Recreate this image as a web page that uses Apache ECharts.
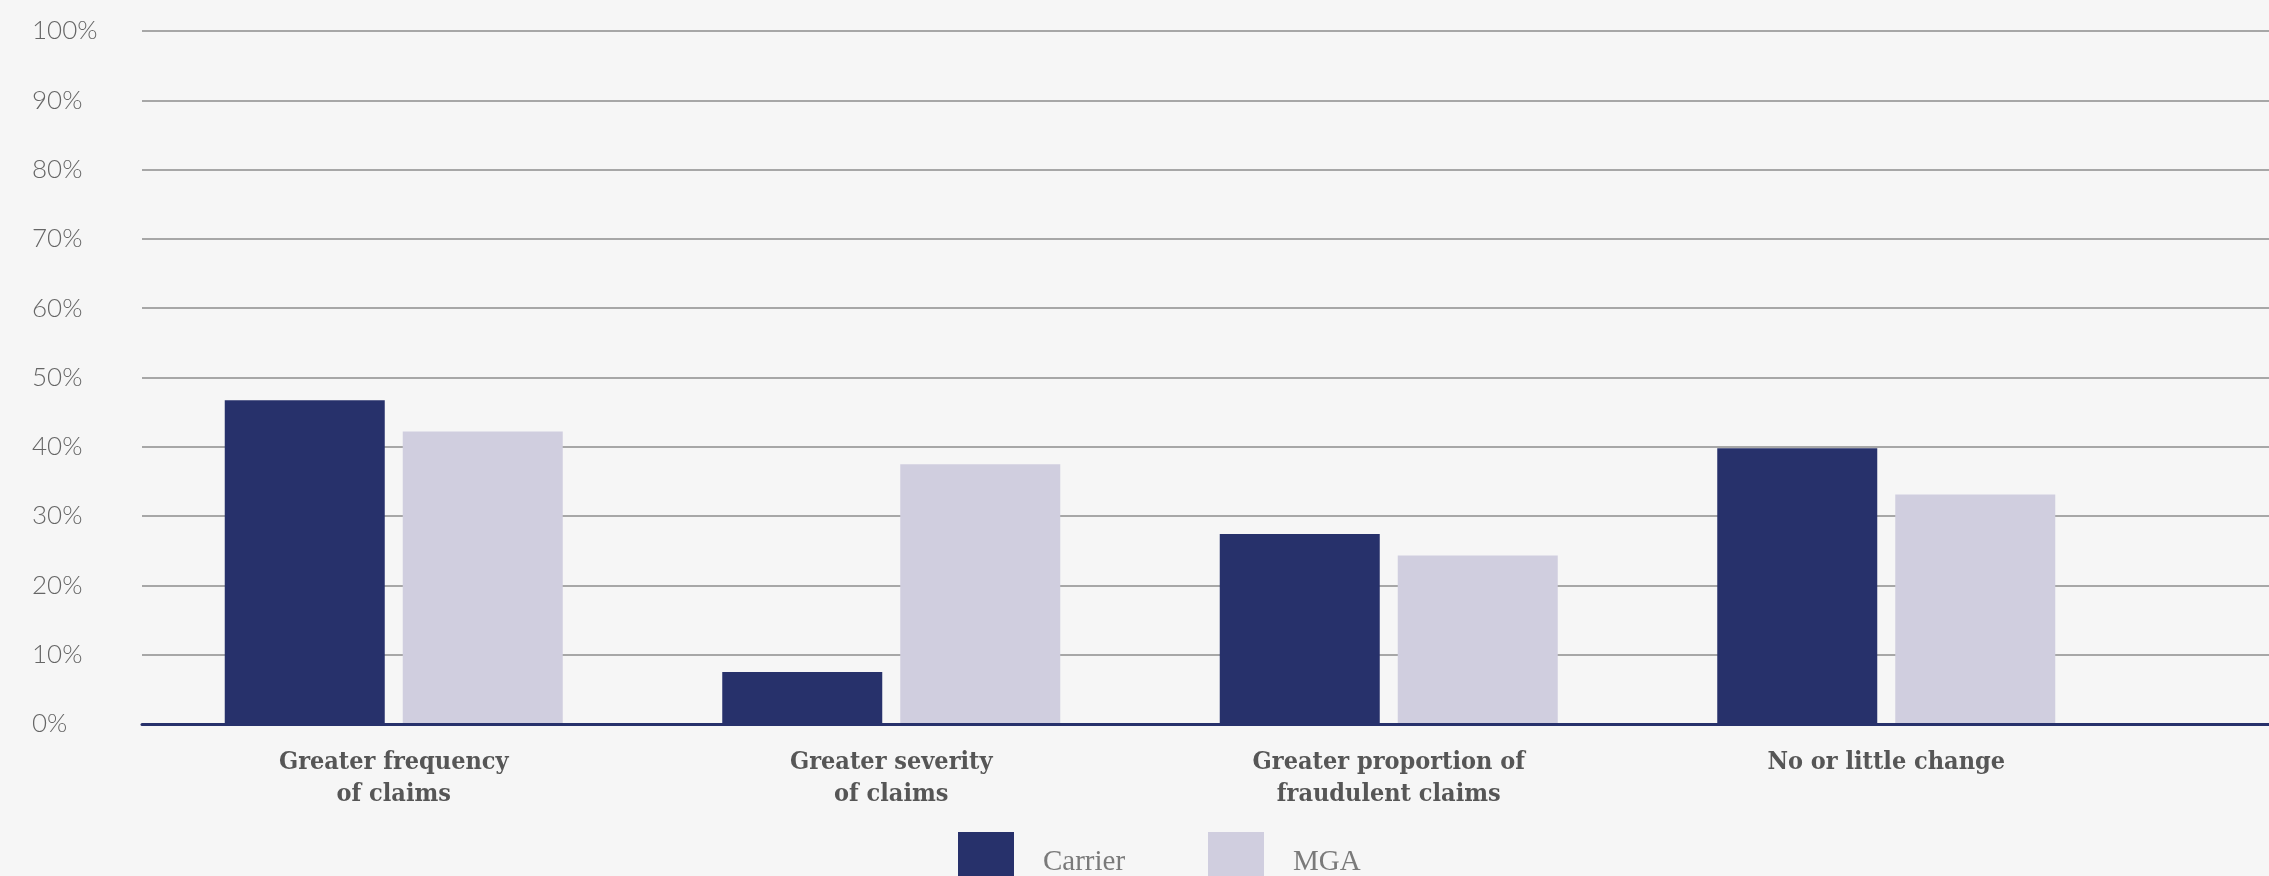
<!DOCTYPE html>
<html>
<head>
<meta charset="utf-8">
<title>Claims trends: Carrier vs MGA</title>
<script src="https://cdn.jsdelivr.net/npm/echarts@6/dist/echarts.min.js"></script>
<style>
  html, body { margin: 0; padding: 0; background: #f6f6f6; }
  #chart { width: 2269px; height: 876px; }
</style>
</head>
<body>
<div id="chart"></div>
<script>
// Response categories (x axis)
const categories = [
  'Greater frequency\nof claims',
  'Greater severity\nof claims',
  'Greater proportion of\nfraudulent claims',
  'No or little change'
];
// Share of respondents, percent
const carrierValues = [46.7, 7.5, 27.4, 39.8];
const mgaValues = [42.2, 37.5, 24.3, 33.1];
// Value axis ticks
const yTicks = [0, 10, 20, 30, 40, 50, 60, 70, 80, 90, 100];

const NAVY = '#27316b';
const LILAC = '#d0cedf';
const labelSerif = '"DejaVu Serif Condensed", "DejaVu Serif", serif';
const legendSerif = '"Liberation Serif", serif';

const chart = echarts.init(document.getElementById('chart'));

const plotTop = 31;
const plotBottom = 152;

const legendText = {
  fontFamily: legendSerif, fontSize: 29, fontWeight: 'normal',
  color: '#7a7a7a', padding: [0, 0, 0, 24]
};

chart.setOption({
  backgroundColor: '#f6f6f6',
  animation: false,
  legend: [
    {
      data: ['Carrier'], left: 953, top: 827,
      icon: 'rect', itemWidth: 56, itemHeight: 60, textStyle: legendText
    },
    {
      data: ['MGA'], left: 1203, top: 827,
      icon: 'rect', itemWidth: 56, itemHeight: 60, textStyle: legendText
    }
  ],
  grid: [
    // full-width backdrop: gridlines, percent labels and baseline
    { left: 142, right: 0, top: plotTop, bottom: plotBottom },
    // bar area
    { left: 145, width: 1990, top: plotTop, bottom: plotBottom }
  ],
  xAxis: [
    {
      gridIndex: 0, type: 'category', data: categories,
      axisLine: { show: true, lineStyle: { color: NAVY, width: 3 } },
      axisTick: { show: false }, axisLabel: { show: false }, z: 10
    },
    {
      gridIndex: 1, type: 'category', data: categories,
      axisLine: { show: false }, axisTick: { show: false },
      axisLabel: {
        margin: 22, fontFamily: labelSerif, fontSize: 25, fontWeight: 'bold',
        color: '#565656', lineHeight: 32, align: 'center'
      }
    }
  ],
  yAxis: [
    {
      gridIndex: 0, type: 'value', min: 0, max: 100, interval: 10,
      axisLine: { show: false }, axisTick: { show: false },
      splitLine: { show: true, lineStyle: { color: '#8c8c8c', width: 1.5 } },
      axisLabel: {
        align: 'left', margin: 110,
        fontFamily: 'Lato', fontWeight: 300, fontSize: 26, color: '#666666',
        formatter: v => (yTicks.includes(v) ? v + '%' : '')
      }
    },
    {
      gridIndex: 1, type: 'value', min: 0, max: 100, interval: 10,
      axisLine: { show: false }, axisTick: { show: false },
      splitLine: { show: false }, axisLabel: { show: false }
    }
  ],
  series: [
    {
      name: 'Carrier', type: 'bar', xAxisIndex: 1, yAxisIndex: 1,
      data: carrierValues, barWidth: 160, barGap: '11.25%',
      itemStyle: { color: NAVY }
    },
    {
      name: 'MGA', type: 'bar', xAxisIndex: 1, yAxisIndex: 1,
      data: mgaValues, barWidth: 160, barGap: '11.25%',
      itemStyle: { color: LILAC }
    }
  ]
});
</script>
</body>
</html>
